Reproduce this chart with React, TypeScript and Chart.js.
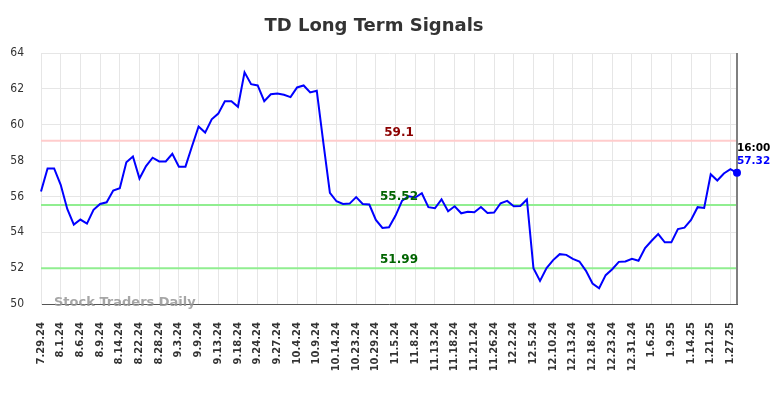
import React, { useEffect, useRef } from 'react';
import { Chart, registerables } from 'chart.js';

Chart.register(...registerables);

const chartTitle = 'TD Long Term Signals';
const watermark = 'Stock Traders Daily';

const tickLabels = [
  '7.29.24', '8.1.24', '8.6.24', '8.9.24', '8.14.24', '8.22.24', '8.28.24', '9.3.24', '9.9.24',
  '9.13.24', '9.18.24', '9.24.24', '9.27.24', '10.4.24', '10.9.24', '10.14.24', '10.23.24',
  '10.29.24', '11.5.24', '11.8.24', '11.13.24', '11.18.24', '11.21.24', '11.26.24', '12.2.24',
  '12.5.24', '12.10.24', '12.13.24', '12.18.24', '12.23.24', '12.31.24', '1.6.25', '1.9.25',
  '1.14.25', '1.21.25', '1.27.25',
];

const values = [
  56.27, 57.56, 57.56, 56.65, 55.30, 54.43, 54.71, 54.48, 55.25, 55.58,
  55.67, 56.33, 56.46, 57.91, 58.23, 57.00, 57.69, 58.16, 57.95, 57.95,
  58.38, 57.66, 57.66, 58.80, 59.90, 59.56, 60.30, 60.62, 61.31, 61.31,
  61.00, 62.92, 62.26, 62.19, 61.31, 61.70, 61.74, 61.67, 61.54, 62.08,
  62.19, 61.80, 61.89, 59.00, 56.20, 55.73, 55.58, 55.60, 55.96, 55.58,
  55.55, 54.69, 54.24, 54.28, 54.93, 55.77, 56.01, 55.94, 56.18, 55.40,
  55.34, 55.84, 55.17, 55.45, 55.06, 55.15, 55.12, 55.41, 55.08, 55.10,
  55.62, 55.75, 55.45, 55.47, 55.83, 52.00, 51.29, 52.00, 52.45, 52.78,
  52.74, 52.52, 52.37, 51.85, 51.14, 50.88, 51.61, 51.94, 52.35, 52.37,
  52.52, 52.41, 53.12, 53.53, 53.90, 53.44, 53.44, 54.18, 54.26, 54.69,
  55.40, 55.36, 57.24, 56.89, 57.28, 57.52, 57.32,
];

const labelEvery = 3;
const resistance = 59.1;
const midLevel = 55.52;
const support = 51.99;
const lastTime = '16:00';
const lastValue = 57.32;

const yMin = 50;
const yMax = 64;
const yStep = 2;

const categories = values.map((_, i) => (i % labelEvery === 0 ? tickLabels[i / labelEvery] ?? '' : ''));

const overlayPlugin = {
  id: 'overlay',
  beforeDatasetsDraw(chart: any) {
    const { ctx, chartArea, scales } = chart;
    const y = scales.y;
    const lines = [
      { v: resistance, c: '#ffcccc' },
      { v: midLevel, c: '#90ee90' },
      { v: support, c: '#90ee90' },
    ];
    ctx.save();
    ctx.lineWidth = 2;
    for (const l of lines) {
      const py = y.getPixelForValue(l.v);
      ctx.strokeStyle = l.c;
      ctx.beginPath();
      ctx.moveTo(chartArea.left, py);
      ctx.lineTo(chartArea.right, py);
      ctx.stroke();
    }
    ctx.restore();
  },
  afterDatasetsDraw(chart: any) {
    const { ctx, chartArea, scales } = chart;
    const x = scales.x;
    const y = scales.y;
    ctx.save();
    // title
    ctx.fillStyle = '#333333';
    ctx.font = "bold 18px 'DejaVu Sans', sans-serif";
    ctx.textAlign = 'center';
    ctx.textBaseline = 'middle';
    ctx.fillText(chartTitle, 374, 26);

    // level labels
    const midX = (chartArea.left + chartArea.right) / 2 + 10;
    ctx.font = "bold 12px 'DejaVu Sans', sans-serif";
    ctx.fillStyle = '#8b0000';
    ctx.fillText(String(resistance), midX, y.getPixelForValue(resistance) - 8);
    ctx.fillStyle = '#006400';
    ctx.fillText(String(midLevel), midX, y.getPixelForValue(midLevel) - 8);
    ctx.fillText(String(support), midX, y.getPixelForValue(support) - 8);

    // watermark
    ctx.textAlign = 'left';
    ctx.fillStyle = 'rgba(150,150,150,0.85)';
    ctx.font = "bold 13px 'DejaVu Sans', sans-serif";
    ctx.fillText(watermark, chartArea.left + 13, chartArea.bottom - 1);

    // right marker line
    const lastIdx = values.length - 1;
    const lx = x.getPixelForValue(lastIdx);
    ctx.strokeStyle = '#808080';
    ctx.lineWidth = 2;
    ctx.beginPath();
    ctx.moveTo(lx, chartArea.top);
    ctx.lineTo(lx, chartArea.bottom);
    ctx.stroke();

    // last point dot
    const ly = y.getPixelForValue(values[lastIdx]);
    ctx.fillStyle = '#0000ff';
    ctx.beginPath();
    ctx.arc(lx, ly, 4, 0, Math.PI * 2);
    ctx.fill();

    // last labels
    ctx.font = "bold 10.5px 'DejaVu Sans', sans-serif";
    ctx.fillStyle = '#000000';
    ctx.fillText(lastTime, lx, ly - 24);
    ctx.fillStyle = '#0000ff';
    ctx.fillText(lastValue.toFixed(2), lx, ly - 11);
    ctx.restore();
  },
};

export default function App() {
  const canvasRef = useRef<HTMLCanvasElement | null>(null);

  useEffect(() => {
    const canvas = canvasRef.current;
    if (!canvas) return;
    const chart = new Chart(canvas, {
      type: 'line',
      data: {
        labels: categories,
        datasets: [
          {
            data: values,
            borderColor: '#0000ff',
            borderWidth: 2,
            pointRadius: 0,
            tension: 0,
            fill: false,
          },
        ],
      },
      options: {
        animation: false,
        responsive: false,
        devicePixelRatio: 1,
        layout: { padding: { top: 53, right: 47, left: 0, bottom: 0 } },
        plugins: {
          legend: { display: false },
          title: { display: false },
          tooltip: { enabled: false },
        },
        scales: {
          x: {
            type: 'category',
            offset: false,
            grid: {
              color: (c: any) => (c.index % labelEvery === 0 ? '#e6e6e6' : 'rgba(0,0,0,0)'),
              lineWidth: 1,
              drawTicks: false,
            },
            border: { display: true, color: '#555555', width: 1 },
            ticks: {
              autoSkip: false,
              maxRotation: 90,
              minRotation: 90,
              padding: 18,
              color: '#333333',
              font: { family: "'DejaVu Sans', sans-serif", size: 10, weight: 'bold' },
              callback: (_v: any, i: number) => categories[i],
            },
            afterFit: (s: any) => {
              s.height = 94;
            },
          },
          y: {
            min: yMin,
            max: yMax,
            grid: { color: '#e6e6e6', lineWidth: 1, drawTicks: false },
            border: { display: true, color: '#e6e6e6' },
            ticks: {
              stepSize: yStep,
              padding: 17,
              color: '#333333',
              font: { family: "'DejaVu Sans Condensed', 'DejaVu Sans', sans-serif", size: 12 },
            },
            afterFit: (s: any) => {
              s.width = 41;
            },
          },
        },
      },
      plugins: [overlayPlugin],
    });
    return () => chart.destroy();
  }, []);

  return (
    <div style={{ position: 'absolute', left: 0, top: 0, width: 784, height: 398, background: '#ffffff' }}>
      <canvas ref={canvasRef} width={784} height={398} style={{ display: 'block' }} />
    </div>
  );
}
